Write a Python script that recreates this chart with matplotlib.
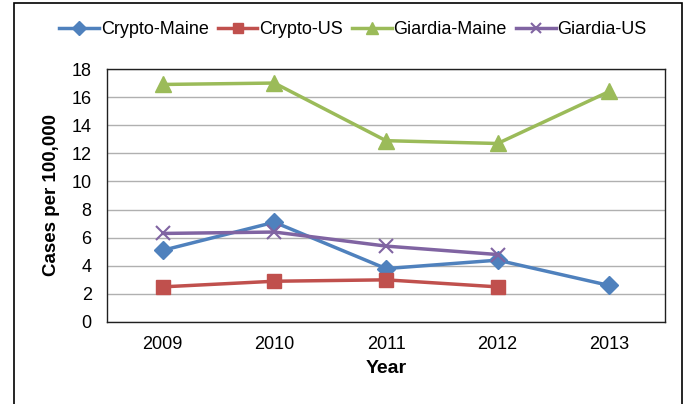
import matplotlib
matplotlib.use("Agg")
import matplotlib.pyplot as plt
from matplotlib.patches import Rectangle

years = ["2009", "2010", "2011", "2012", "2013"]
crypto_maine = [5.1, 7.1, 3.8, 4.4, 2.6]
crypto_us = [2.5, 2.9, 3.0, 2.5]
giardia_maine = [16.9, 17.0, 12.9, 12.7, 16.4]
giardia_us = [6.3, 6.4, 5.4, 4.8]

plt.rcParams['font.family'] = ['Liberation Sans', 'DejaVu Sans']

fig = plt.figure(figsize=(6.86, 4.04), dpi=100)
ax = fig.add_axes([107/686, 1 - 322/404, (665-107)/686, (322-69)/404])

x = list(range(len(years)))
ax.plot(x, crypto_maine, color='#4F81BD', lw=2.5, marker='D', ms=9, label='Crypto-Maine')
ax.plot(x[:4], crypto_us, color='#C0504D', lw=2.5, marker='s', ms=10, label='Crypto-US')
ax.plot(x, giardia_maine, color='#9BBB59', lw=2.5, marker='^', ms=11, label='Giardia-Maine')
ax.plot(x[:4], giardia_us, color='#8064A2', lw=2.5, marker='x', ms=10, mew=1.5, label='Giardia-US')

ax.set_xlim(-0.5, 4.5)
ax.set_ylim(0, 18)
ax.set_yticks(range(0, 19, 2))
ax.set_xticks(x)
ax.set_xticklabels(years)
ax.tick_params(axis='both', length=0, labelsize=13)
ax.tick_params(axis='x', pad=10)
ax.tick_params(axis='y', pad=11)
ax.grid(axis='y', color='#B0B0B0', lw=1)
ax.set_axisbelow(True)
for s in ax.spines.values():
    s.set_color('#202020')
    s.set_linewidth(1)

ax.set_xlabel('Year', fontsize=14, fontweight='bold', labelpad=5)
ax.set_ylabel('Cases per 100,000', fontsize=13.5, fontweight='bold', labelpad=8)

fig.legend(loc='center', bbox_to_anchor=(353/686, 1 - 30/404), ncol=4, frameon=False,
           fontsize=13, handlelength=2.2, columnspacing=0.5, handletextpad=0.1,
           markerscale=0.75)

fig.patches.append(Rectangle((14/686, -0.01), (682-14)/686, 1 - 3/404 + 0.01,
                             transform=fig.transFigure, fill=False, ec='black', lw=1.2))

fig.savefig('out.png', dpi=100)
